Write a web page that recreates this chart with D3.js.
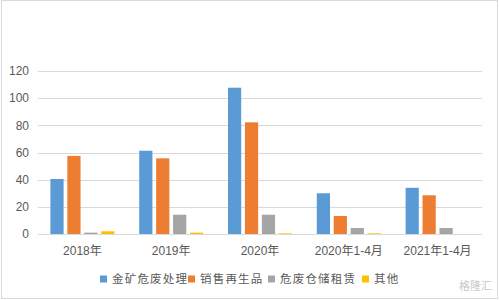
<!DOCTYPE html>
<html>
<head>
<meta charset="utf-8">
<script src="https://cdn.jsdelivr.net/npm/d3@7"></script>
<style>
  body { margin: 0; background: #fff; }
  svg { display: block; font-family: "Liberation Sans", Arial, sans-serif; }
</style>
</head>
<body>
<div id="main"></div>
<script>
var categories = ["2018年", "2019年", "2020年", "2020年1-4月", "2021年1-4月"];
var seriesNames = ["金矿危废处理", "销售再生品", "危废仓储租赁", "其他"];
var colors = ["#5b9bd5", "#ed7d31", "#a5a5a5", "#ffc000"];
var goldWaste = [40.5, 61.3, 107.7, 30, 34];
var recycled = [57.5, 55.7, 82.2, 13.3, 28.5];
var storage = [1, 14.2, 14.2, 4.4, 4.4];
var other = [2, 1, 0.5, 0.5, 0];
var yTicks = [0, 20, 40, 60, 80, 100, 120];

var values = [goldWaste, recycled, storage, other];

var width = 499, height = 300;
var margin = {top: 71, right: 17, bottom: 66, left: 38};

var svg = d3.select("#main").append("svg")
    .attr("width", width)
    .attr("height", height);

// outer border
svg.append("rect")
    .attr("x", 1.5).attr("y", 0.5)
    .attr("width", width - 3).attr("height", height - 2)
    .attr("fill", "none")
    .attr("stroke", "#d9d9d9");

var x = d3.scaleBand()
    .domain(categories)
    .range([margin.left, width - margin.right]);

var x1 = d3.scaleBand()
    .domain(d3.range(seriesNames.length))
    .range([0, 64])
    .paddingInner(0.22);

var y = d3.scaleLinear()
    .domain([0, 120])
    .range([height - margin.bottom, margin.top]);

// gridlines
svg.append("g")
    .selectAll("line")
    .data(yTicks)
    .enter().append("line")
    .attr("x1", margin.left)
    .attr("x2", width - margin.right)
    .attr("y1", function(d) { return Math.round(y(d)) + 0.5; })
    .attr("y2", function(d) { return Math.round(y(d)) + 0.5; })
    .attr("stroke", "#d9d9d9")
    .attr("stroke-width", 1);

// y tick labels
svg.append("g")
    .selectAll("text")
    .data(yTicks)
    .enter().append("text")
    .attr("x", 29)
    .attr("y", function(d) { return y(d); })
    .attr("dy", "0.35em")
    .attr("text-anchor", "end")
    .attr("font-size", 12)
    .attr("fill", "#595959")
    .text(function(d) { return d; });

// bars
var groups = svg.append("g")
    .selectAll("g")
    .data(categories)
    .enter().append("g")
    .attr("transform", function(d) { return "translate(" + (x(d) + x.bandwidth() / 2 - 32) + ",0)"; });

groups.selectAll("rect")
    .data(function(d, i) { return values.map(function(s, k) { return {k: k, v: s[i]}; }); })
    .enter().append("rect")
    .attr("x", function(d) { return x1(d.k); })
    .attr("width", x1.bandwidth())
    .attr("y", function(d) { return y(d.v); })
    .attr("height", function(d) { return y(0) - y(d.v); })
    .attr("fill", function(d) { return colors[d.k]; });

// x labels
svg.append("g")
    .selectAll("text")
    .data(categories)
    .enter().append("text")
    .attr("x", function(d) { return x(d) + x.bandwidth() / 2; })
    .attr("y", 251)
    .attr("dy", "0.35em")
    .attr("text-anchor", "middle")
    .attr("font-size", 12)
    .attr("font-family", "'Liberation Sans', 'Noto Sans CJK SC', sans-serif")
    .attr("fill", "#595959")
    .text(function(d) { return d; });

// legend
var legendX = [100, 188, 268, 362];
var legend = svg.append("g")
    .selectAll("g")
    .data(seriesNames)
    .enter().append("g")
    .attr("transform", function(d, i) { return "translate(" + legendX[i] + ",279)"; });

legend.append("rect")
    .attr("x", 0).attr("y", -3.5)
    .attr("width", 7).attr("height", 7)
    .attr("fill", function(d, i) { return colors[i]; });

legend.append("text")
    .attr("x", 12)
    .attr("dy", "0.35em")
    .attr("font-size", 11.5)
    .attr("letter-spacing", 1.2)
    .attr("font-family", "'Noto Sans CJK SC', sans-serif")
    .attr("fill", "#595959")
    .text(function(d) { return d; });

// watermark
svg.append("text")
    .attr("x", 492).attr("y", 290)
    .attr("text-anchor", "end")
    .attr("font-size", 11)
    .attr("font-family", "'Noto Sans CJK SC', sans-serif")
    .attr("fill", "#c8c8c8")
    .text("格隆汇");
</script>
</body>
</html>
